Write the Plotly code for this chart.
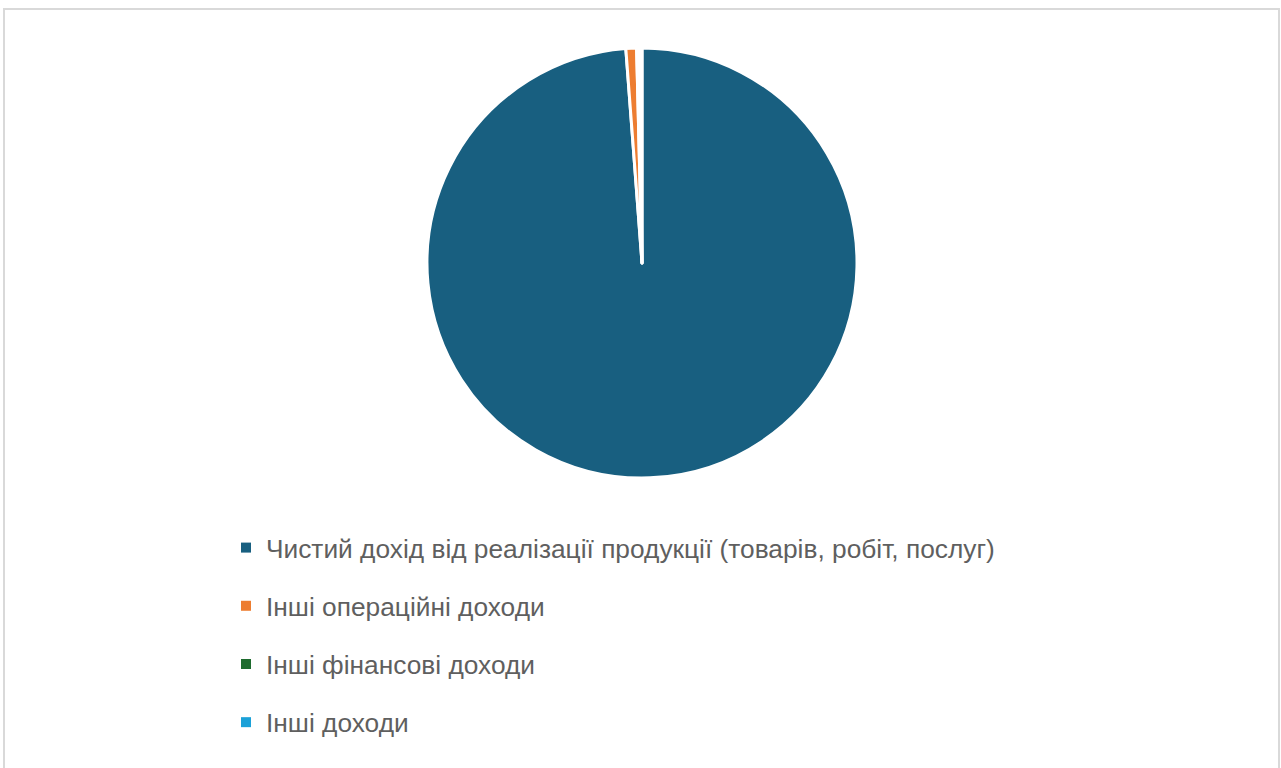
import plotly.graph_objects as go

# Income structure
categories = [
    "Чистий дохід від реалізації продукції (товарів, робіт, послуг)",
    "Інші операційні доходи",
    "Інші фінансові доходи",
    "Інші доходи",
]
shares = [98.8, 0.8, 0.2, 0.2]
colors = ["#185f80", "#ed7d31", "#1e6b2e", "#1ba1d8"]

W, H = 1281, 768
cx, cy, r = 642, 263, 215

fig = go.Figure()
fig.add_trace(go.Pie(
    labels=categories,
    values=shares,
    sort=False,
    direction="clockwise",
    rotation=0,
    marker=dict(colors=colors, line=dict(color="white", width=3)),
    textinfo="none",
    hoverinfo="label+percent",
    showlegend=False,
    domain=dict(x=[(cx - r) / W, (cx + r) / W], y=[1 - (cy + r) / H, 1 - (cy - r) / H]),
))

# legend entries, one group each so their spacing can be set
for name, col in zip(categories, colors):
    fig.add_trace(go.Scatter(
        x=[None], y=[None], mode="markers", name=name, legendgroup=name,
        marker=dict(symbol="square", size=10, color=col),
    ))

fig.update_layout(
    width=W, height=H,
    margin=dict(l=0, r=0, t=0, b=0),
    paper_bgcolor="white", plot_bgcolor="white",
    xaxis=dict(visible=False), yaxis=dict(visible=False),
    showlegend=True,
    legend=dict(
        x=226 / W, y=1 - 524 / H, xanchor="left", yanchor="top",
        font=dict(family="Liberation Sans, Arial, sans-serif", size=26.3, color="#5f5f5f"),
        tracegroupgap=21, itemwidth=30, bgcolor="rgba(0,0,0,0)",
    ),
    shapes=[dict(
        type="rect", xref="paper", yref="paper",
        x0=4 / W, x1=1279 / W, y0=-0.02, y1=1 - 9 / H,
        line=dict(color="#d9d9d9", width=2), fillcolor="rgba(0,0,0,0)",
    )],
)

fig.write_html("out.html")
